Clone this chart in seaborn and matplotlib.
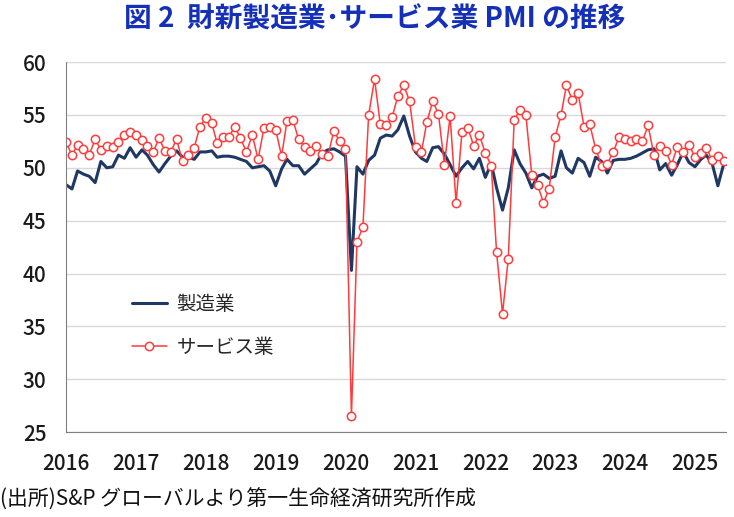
import pandas as pd
import seaborn as sns
import matplotlib.pyplot as plt
import matplotlib.dates as mdates

# Caixin China PMI, monthly from Jan 2016
manufacturing = [
    48.4, 48.0, 49.7, 49.4, 49.2, 48.6, 50.6, 50.0, 50.1, 51.2, 50.9, 51.9,  # 2016
    51.0, 51.7, 51.2, 50.3, 49.6, 50.4, 51.1, 51.6, 51.0, 51.0, 50.8, 51.5,  # 2017
    51.5, 51.6, 51.0, 51.1, 51.1, 51.0, 50.8, 50.6, 50.0, 50.1, 50.2, 49.7,  # 2018
    48.3, 49.9, 50.8, 50.2, 50.2, 49.4, 49.9, 50.4, 51.4, 51.7, 51.8, 51.5,  # 2019
    51.1, 40.3, 50.1, 49.4, 50.7, 51.2, 52.8, 53.1, 53.0, 53.6, 54.9, 53.0,  # 2020
    51.5, 50.9, 50.6, 51.9, 52.0, 51.3, 50.3, 49.2, 50.0, 50.6, 49.9, 50.9,  # 2021
    49.1, 50.4, 48.1, 46.0, 48.1, 51.7, 50.4, 49.5, 48.1, 49.2, 49.4, 49.0,  # 2022
    49.2, 51.6, 50.0, 49.5, 50.9, 50.5, 49.2, 51.0, 50.6, 49.5, 50.7, 50.8,  # 2023
    50.8, 50.9, 51.1, 51.4, 51.7, 51.8, 49.8, 50.4, 49.3, 50.3, 51.5, 50.5,  # 2024
    50.1, 50.8, 51.2, 50.4, 48.3, 50.4,                                      # 2025
]
services = [
    52.4, 51.2, 52.2, 51.8, 51.2, 52.7, 51.7, 52.1, 52.0, 52.4, 53.1, 53.4,
    53.1, 52.6, 52.1, 51.5, 52.8, 51.6, 51.5, 52.7, 50.6, 51.2, 51.9, 53.9,
    54.7, 54.2, 52.3, 52.9, 52.9, 53.9, 52.8, 51.5, 53.1, 50.8, 53.8, 53.9,
    53.6, 51.1, 54.4, 54.5, 52.7, 52.0, 51.6, 52.1, 51.3, 51.1, 53.5, 52.5,
    51.8, 26.5, 43.0, 44.4, 55.0, 58.4, 54.1, 54.0, 54.8, 56.8, 57.8, 56.3,
    52.0, 51.5, 54.3, 56.3, 55.1, 50.3, 54.9, 46.7, 53.4, 53.8, 52.1, 53.1,
    51.4, 50.2, 42.0, 36.2, 41.4, 54.5, 55.5, 55.0, 49.3, 48.4, 46.7, 48.0,
    52.9, 55.0, 57.8, 56.4, 57.1, 53.9, 54.1, 51.8, 50.2, 50.4, 51.5, 52.9,
    52.7, 52.5, 52.7, 52.5, 54.0, 51.2, 52.1, 51.6, 50.3, 52.0, 51.5, 52.2,
    51.0, 51.4, 51.9, 50.7, 51.1, 50.6,
]
months = pd.date_range("2016-01-01", periods=len(manufacturing), freq="MS")

title = "図 2  財新製造業･サービス業 PMI の推移"
source = "(出所)S&P グローバルより第一生命経済研究所作成"

sns.set_style("white")
plt.rcParams['font.family'] = ['Noto Sans CJK JP', 'DejaVu Sans']

fig = plt.figure(figsize=(7.34, 5.17), dpi=100)
ax = fig.add_axes([0.09, 0.164, 0.899, 0.716])

sns.lineplot(x=months, y=manufacturing, ax=ax, color="#1f3864", linewidth=2.2,
             label="製造業")
sns.lineplot(x=months, y=services, ax=ax, color="#ff3b3b", linewidth=1.1,
             marker="o", markersize=6, markerfacecolor="white",
             markeredgecolor="#ff3b3b", markeredgewidth=1.1, label="サービス業")

ax.set_xlabel("")
ax.set_ylabel("")
ax.set_ylim(25, 60)
ax.set_yticks(range(25, 61, 5))
ax.set_xlim(pd.Timestamp("2016-01-01"), pd.Timestamp("2025-06-12"))
ax.xaxis.set_major_locator(mdates.YearLocator())
ax.xaxis.set_major_formatter(mdates.DateFormatter("%Y"))
ax.grid(axis="y", color="#d9d9d9", linewidth=1)
ax.set_axisbelow(True)

for side in ["top", "right"]:
    ax.spines[side].set_visible(False)
ax.spines["left"].set_color("#808080")
ax.spines["bottom"].set_color("#808080")
ax.tick_params(axis="x", direction="in", length=6, color="#808080", pad=15)
ax.tick_params(axis="y", length=0, pad=14)
for lab in ax.get_xticklabels() + ax.get_yticklabels():
    lab.set_fontsize(15)
    lab.set_color("#1a1a1a")
    lab.set_fontweight("medium")

ax.legend(loc="upper left", bbox_to_anchor=(0.073, 0.42), frameon=False,
          fontsize=14, labelspacing=1.1, handlelength=1.8, handletextpad=0.5)

fig.text(0.51, 0.962, title, ha="center", va="center", fontsize=20,
         fontweight="bold", color="#1530b8")
fig.text(0.0, 0.033, source, ha="left", va="center", fontsize=15, color="#111111")

fig.savefig("out.png", dpi=100)
